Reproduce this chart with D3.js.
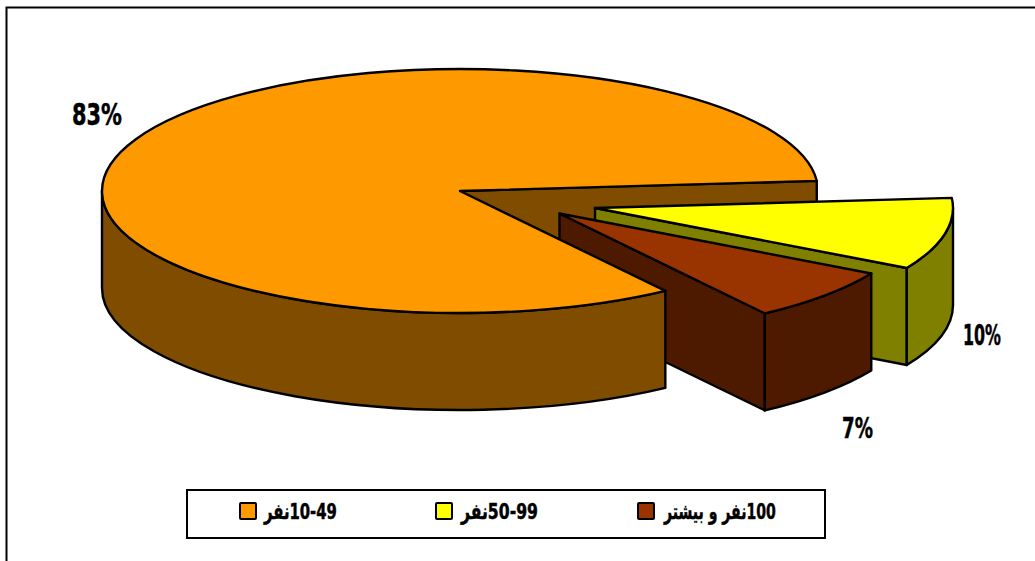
<!DOCTYPE html>
<html>
<head>
<meta charset="utf-8">
<script src="https://cdn.jsdelivr.net/npm/d3@7"></script>
<style>
  html, body { margin: 0; padding: 0; background: #fff; overflow: hidden; }
  text { font-family: "DejaVu Sans", "Liberation Sans", sans-serif; font-weight: bold; fill: #000; stroke: #000; stroke-width: 0.5; }
</style>
</head>
<body>
<div id="chart"></div>
<script>
const categories = [ '10-49نفر', '50-99نفر', '100نفر و بیشتر' ];
const shares = [ 83.4, 9.5, 7.1 ];
const topColors = [ '#ff9900', '#ffff00', '#993300' ];
const sideColors = [ '#804d00', '#808000', '#4d1a00' ];

const width = 1035, height = 561;
const rx = 358, ry = 122, depth = 97;
const rad = Math.PI / 180;

// pull-out of each slice: centre of the pie in the picture
const centres = [ [ 460, 191 ], [ 595, 208 ], [ 559.5, 213.5 ] ];
// left, right, baseline, font size
const labelSpots = [ [ 72, 122, 125, 30 ], [ 963, 1001, 345, 29 ], [ 842, 873, 438, 29 ] ];
// swatch x, text left, text right
const legendSpots = [ [ 240, 264, 337 ], [ 436, 461, 538 ], [ 638, 664, 776 ] ];

const svg = d3.select( '#chart' )
  .append( 'svg' )
    .attr( 'width', width )
    .attr( 'height', height )
    .style( 'display', 'block' );

// Slices start in the lower right, same as the chart
const slices = d3.pie().sort( null )
  .startAngle( 145 * rad )
  .endAngle( 505 * rad )( shares );

function pt( c, a, drop ) {
  return [ c[0] + rx * Math.sin( a ), c[1] - ry * Math.cos( a ) + ( drop || 0 ) ];
}

function arcTo( c, from, to, drop, sweep ) {
  const large = Math.abs( to - from ) > Math.PI ? 1 : 0;
  return 'A' + rx + ',' + ry + ' 0 ' + large + ' ' + sweep + ' ' + pt( c, to, drop ).join( ',' );
}

function topPath( c, s ) {
  return 'M' + c.join( ',' ) + 'L' + pt( c, s.startAngle ).join( ',' ) +
    arcTo( c, s.startAngle, s.endAngle, 0, 1 ) + 'Z';
}

function outerWall( c, from, to ) {
  return 'M' + pt( c, from ).join( ',' ) + arcTo( c, from, to, 0, 1 ) +
    'L' + pt( c, to, depth ).join( ',' ) + arcTo( c, to, from, depth, 0 ) + 'Z';
}

function cutWall( c, a ) {
  return 'M' + c.join( ',' ) + 'L' + pt( c, a ).join( ',' ) +
    'L' + pt( c, a, depth ).join( ',' ) + 'L' + c[0] + ',' + ( c[1] + depth ) + 'Z';
}

function draw( d, fill ) {
  svg.append( 'path' )
    .attr( 'd', d )
    .attr( 'fill', fill )
    .attr( 'stroke', '#000' )
    .attr( 'stroke-width', 2.4 )
    .attr( 'stroke-linejoin', 'round' );
}

// Squeeze a label into the span it has in the chart, the font has no narrow cut
function fitText( sel, left, right, y ) {
  const w = sel.node().getComputedTextLength();
  sel.attr( 'transform', 'translate(' + left + ',' + y + ') scale(' + ( right - left ) / w + ',1)' );
}

// Chart area border, only top and left show in the window
svg.append( 'path' )
  .attr( 'd', 'M6.5,' + height + 'V7.5H' + width )
  .attr( 'fill', 'none' )
  .attr( 'stroke', '#000' )
  .attr( 'stroke-width', 2 );

// Back to front: cut of the big slice, yellow, brown, then the big slice
const wrap = 360 * rad;
draw( cutWall( centres[0], slices[0].endAngle ), sideColors[0] );

draw( cutWall( centres[1], slices[1].endAngle ), sideColors[1] );
draw( outerWall( centres[1], 90 * rad + wrap, slices[1].endAngle ), sideColors[1] );
draw( topPath( centres[1], slices[1] ), topColors[1] );

draw( cutWall( centres[2], slices[2].endAngle ), sideColors[2] );
draw( outerWall( centres[2], slices[2].startAngle, slices[2].endAngle ), sideColors[2] );
draw( topPath( centres[2], slices[2] ), topColors[2] );

draw( outerWall( centres[0], slices[0].startAngle, 270 * rad ), sideColors[0] );
draw( topPath( centres[0], slices[0] ), topColors[0] );

// Percent labels
shares.forEach( function( d, i ) {
  const spot = labelSpots[i];
  const label = svg.append( 'text' )
    .attr( 'font-size', spot[3] )
    .text( Math.round( d ) + '%' );
  fitText( label, spot[0], spot[1], spot[2] );
} );

// Legend
svg.append( 'rect' )
  .attr( 'x', 187 ).attr( 'y', 490 )
  .attr( 'width', 638 ).attr( 'height', 48 )
  .attr( 'fill', '#fff' )
  .attr( 'stroke', '#000' )
  .attr( 'stroke-width', 2 );

categories.forEach( function( name, i ) {
  const spot = legendSpots[i];
  svg.append( 'rect' )
    .attr( 'x', spot[0] ).attr( 'y', 503 )
    .attr( 'width', 16 ).attr( 'height', 16 )
    .attr( 'rx', 1 )
    .attr( 'fill', topColors[i] )
    .attr( 'stroke', '#000' )
    .attr( 'stroke-width', 2 );
  const label = svg.append( 'text' )
    .attr( 'font-size', 22 )
    .attr( 'text-anchor', 'end' )
    .style( 'direction', 'rtl' )
    .text( name );
  fitText( label, spot[1], spot[2], 519 );
} );
</script>
</body>
</html>
